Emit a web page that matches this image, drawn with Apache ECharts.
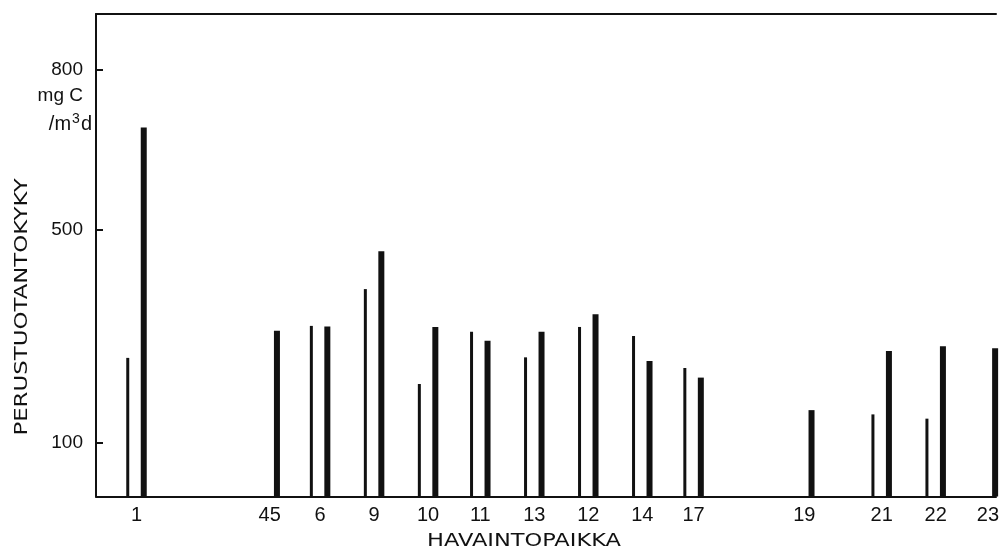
<!DOCTYPE html>
<html>
<head>
<meta charset="utf-8">
<script src="https://cdn.jsdelivr.net/npm/echarts@6/dist/echarts.min.js"></script>
<style>
  html, body { margin: 0; padding: 0; background: #fff; }
  #chart { width: 1002px; height: 551px; }
</style>
</head>
<body>
<div id="chart"></div>
<script>
// Observation sites and their position along the distance axis
const stations = ['1', '45', '6', '9', '10', '11', '13', '12', '14', '17', '19', '21', '22', '23'];
const stationPos = [4.5, 19.3, 24.9, 30.9, 36.9, 42.7, 48.7, 54.7, 60.7, 66.4, 78.7, 87.3, 93.3, 99.1];

// Primary production capacity, mg C /m³d (thin and thick bars per site)
const thinValues = [260, null, 320, 389, 211, 309, 261, 318, 301, 241, null, 154, 146, null];
const thickValues = [692, 311, 319, 460, 318, 292, 309, 342, 254, 223, 162, 273, 282, 278];

// Labelled values on the production axis
const yTicks = [100, 500, 800];

const ink = '#111';
const numFont = '"Liberation Sans", Arial, sans-serif';
const titleFont = '"DejaVu Sans", Verdana, sans-serif';

function pairs(values) {
  return stationPos
    .map((x, i) => [x, values[i]])
    .filter(d => d[1] !== null);
}

const chart = echarts.init(document.getElementById('chart'), null, { renderer: 'canvas' });

chart.setOption({
  animation: false,
  backgroundColor: '#fff',
  grid: { left: 96, right: 0, top: 14, bottom: 54.5, containLabel: false },
  xAxis: [
    {
      type: 'value',
      min: 0,
      max: 100,
      position: 'bottom',
      splitLine: { show: false },
      axisTick: { show: false },
      axisLine: { show: true, onZero: false, lineStyle: { color: ink, width: 2 } },
      axisLabel: {
        customValues: stationPos,
        formatter: v => stations[stationPos.indexOf(v)] || '',
        color: ink,
        fontFamily: numFont,
        fontSize: 20,
        margin: 9
      }
    },
    {
      // frame line along the top of the plot
      type: 'value',
      min: 0,
      max: 100,
      position: 'top',
      splitLine: { show: false },
      axisTick: { show: false },
      axisLabel: { show: false },
      axisLine: { show: true, onZero: false, lineStyle: { color: ink, width: 2 } }
    }
  ],
  yAxis: {
    type: 'value',
    min: 0,
    max: 905,
    splitLine: { show: false },
    axisLine: { show: true, onZero: false, lineStyle: { color: ink, width: 2 } },
    axisTick: {
      show: true,
      inside: true,
      length: 7,
      customValues: yTicks,
      lineStyle: { color: ink, width: 2 }
    },
    axisLabel: {
      customValues: yTicks,
      color: ink,
      fontFamily: numFont,
      fontSize: 19,
      margin: 13
    }
  },
  series: [
    {
      name: 'thin',
      type: 'bar',
      xAxisIndex: 0,
      barWidth: 3,
      barGap: '383%',
      itemStyle: { color: ink },
      data: pairs(thinValues)
    },
    {
      name: 'thick',
      type: 'bar',
      xAxisIndex: 0,
      barWidth: 6,
      barGap: '383%',
      itemStyle: { color: ink },
      data: pairs(thickValues)
    }
  ],
  graphic: [
    {
      type: 'text',
      x: 83, y: 96,
      style: { text: 'mg C', fill: ink, font: '19px ' + numFont, align: 'right', verticalAlign: 'middle' }
    },
    {
      type: 'text',
      x: 92, y: 124,
      style: {
        text: '/m{sup|3}d',
        fill: ink,
        font: '20px ' + numFont,
        align: 'right',
        verticalAlign: 'middle',
        rich: {
          sup: { fontSize: 14, fontFamily: numFont, fill: ink, padding: [0, 1, 9, 1] }
        }
      }
    },
    {
      type: 'text',
      x: 22, y: 307,
      rotation: Math.PI / 2,
      scaleX: 1.27,
      style: { text: 'PERUSTUOTANTOKYKY', fill: ink, font: '18px ' + titleFont, align: 'center', verticalAlign: 'middle' }
    },
    {
      type: 'text',
      x: 524, y: 541.5,
      scaleX: 1.25,
      style: { text: 'HAVAINTOPAIKKA', fill: ink, font: '18px ' + titleFont, align: 'center', verticalAlign: 'middle' }
    }
  ]
});
</script>
</body>
</html>
